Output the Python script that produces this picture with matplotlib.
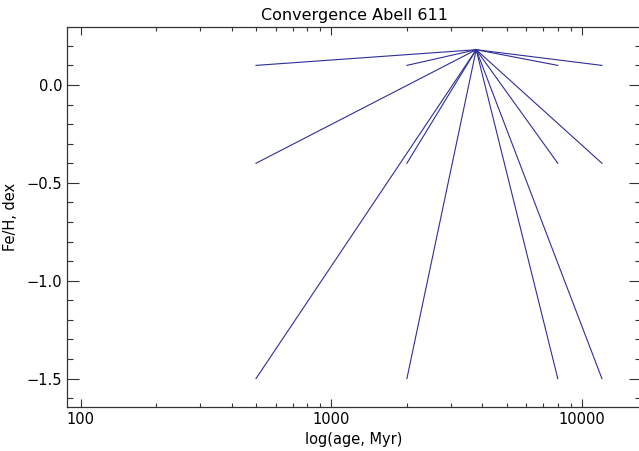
import matplotlib
matplotlib.use("Agg")
import matplotlib.pyplot as plt
from matplotlib.ticker import FixedLocator, MultipleLocator, NullFormatter

# Convergence point
conv_age = 3780.0
conv_feh = 0.18

# Starting grid
start_ages = [500, 2000, 8000, 12000]
start_fehs = [0.1, -0.4, -1.5]

xticks = [100, 1000, 10000]
xticklabels = ["100", "1000", "10000"]
yticks = [0.0, -0.5, -1.0, -1.5]
yticklabels = ["0.0", "\u22120.5", "\u22121.0", "\u22121.5"]

fig = plt.figure(figsize=(6.39, 4.51), dpi=100)
ax = fig.add_axes([0.1049, 0.0976, 0.8983, 0.8425])

color = "#2e2e98"
for a in start_ages:
    for f in start_fehs:
        ax.plot([a, conv_age], [f, conv_feh], color=color, lw=0.8)

ax.set_xscale("log")
ax.set_xlim(88.1, 17190)
ax.set_ylim(-1.645, 0.296)

ax.xaxis.set_major_locator(FixedLocator(xticks))
ax.set_xticklabels(xticklabels)
ax.xaxis.set_minor_locator(FixedLocator([m * d for d in [100, 1000, 10000] for m in range(2, 10)]))
ax.xaxis.set_minor_formatter(NullFormatter())
ax.set_yticks(yticks)
ax.set_yticklabels(yticklabels)
ax.yaxis.set_minor_locator(MultipleLocator(0.1))

ax.tick_params(which="both", direction="in", top=True, right=True, labelsize=10.5, colors="#333333", labelcolor="black", width=0.8)
ax.tick_params(axis="y", which="major", length=8.5)
ax.tick_params(axis="y", which="minor", length=4.3)
ax.tick_params(axis="x", which="major", length=5.5)
ax.tick_params(axis="x", which="minor", length=3)
for s in ax.spines.values():
    s.set_linewidth(0.9)
    s.set_color("#333333")

ax.set_title("Convergence Abell 611", fontsize=11.5, pad=5)
ax.set_xlabel("log(age, Myr)", fontsize=10.5, labelpad=4)
ax.set_ylabel("Fe/H, dex", fontsize=10.5, labelpad=6)

fig.savefig("out.png", dpi=100)
